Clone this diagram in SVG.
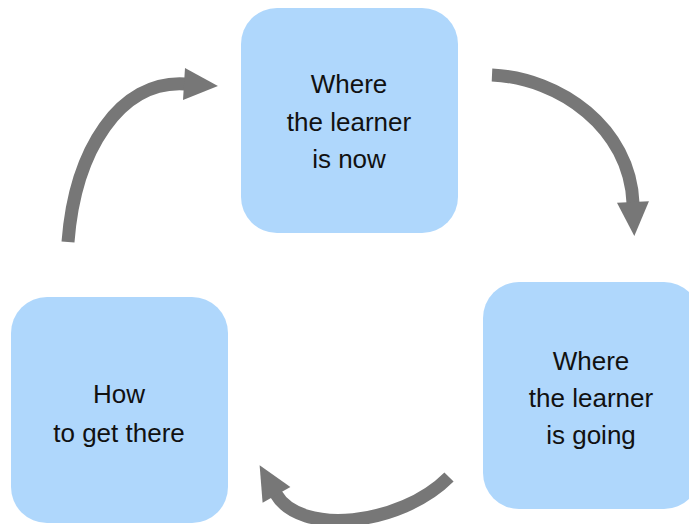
<svg xmlns="http://www.w3.org/2000/svg" width="689" height="524" viewBox="0 0 689 524">
<style>
.box{fill:#AFD7FC;}
.lbl{font-family:"Liberation Sans",Arial,sans-serif;font-size:26px;fill:#111;text-anchor:middle;}
.arr{fill:none;stroke:#777777;stroke-width:13;marker-end:url(#head);}
</style>
<defs>
<marker id="head" markerUnits="userSpaceOnUse" markerWidth="40" markerHeight="40" refX="1" refY="0" viewBox="0 -20 40 40" orient="auto" overflow="visible">
<path d="M0,-16 L34,0 L0,16 Z" fill="#777777"/>
</marker>
</defs>
<rect width="689" height="524" fill="#ffffff"/>
<g id="connectors">
<path class="arr" d="M492,75 C560,78 630,128 633,203"/>
<path class="arr" d="M449,477 C400,526 300,536 276,494"/>
<path class="arr" d="M68,242 C75,150 120,80 185,84"/>
</g>
<g id="node-now">
<rect class="box" x="241" y="8" width="217" height="225" rx="36"/>
<text class="lbl" x="349" y="93">Where</text>
<text class="lbl" x="349" y="131">the learner</text>
<text class="lbl" x="349" y="168">is now</text>
</g>
<g id="node-going">
<rect class="box" x="483" y="282" width="217" height="227" rx="36"/>
<text class="lbl" x="591" y="370">Where</text>
<text class="lbl" x="591" y="407">the learner</text>
<text class="lbl" x="591" y="444">is going</text>
</g>
<g id="node-how">
<rect class="box" x="11" y="297" width="217" height="226" rx="36"/>
<text class="lbl" x="119" y="403">How</text>
<text class="lbl" x="119" y="442">to get there</text>
</g>
</svg>
